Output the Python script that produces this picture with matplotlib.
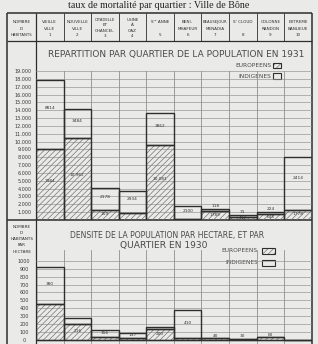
import numpy as np
import matplotlib.pyplot as plt
from matplotlib.patches import Rectangle

W, H = 318, 344
PAPER = "#eaeae8"
INK = "#2e2e2e"
GRID = "#909090"
HATCH = "#777777"
LETTER = "#4a4a4a"

# quartiers de la ville (en-tete du tableau)
quartiers = ["VIEILLE\nVILLE\n1", "NOUVELLE\nVILLE\n2", "CITADELLE\nET\nCHANCEL\n3",
             "USINE\nÀ\nGAZ\n4", "Sᵗᵉ ANNE\n\n5", "BENI-\nMHAFEUR\n6",
             "BEAUSEJOUR\nMENADIA\n7", "Sᵗ CLOUD\n\n8", "COLONNE\nRANDON\n9",
             "EXTREME\nBANLIEUE\n10"]

# repartition 1931 (hauteurs)
europeens_1931 = [9000, 10400, 1300, 950, 9600, 100, 1200, 400, 750, 1300]
indigenes_1931 = [8900, 3750, 2750, 2800, 4000, 1650, 150, 180, 250, 6700]
chiffres_ind_1931 = ["8814", "3484", "2178", "2934", "3862", "2100", "118", "31", "224", "2414"]
chiffres_eur_1931 = ["7984", "10.962", "159", "", "10.081", "", "1789", "412", "645", "1778"]
ticks_1931 = list(range(1000, 20000, 1000))

# densite par hectare 1930
europeens_dens = [452, 197, 28, 15, 130, 20, 18, 10, 28, 0]
indigenes_dens = [470, 80, 93, 72, 33, 355, 0, 0, 0, 0]
chiffres_dens = ["380", "216", "156", "137", "200", "410", "40", "30", "60", ""]
ticks_dens = list(range(0, 1100, 100))

plt.rcParams["hatch.linewidth"] = 0.5
plt.rcParams["font.family"] = "DejaVu Sans"

fig = plt.figure(figsize=(W / 100, H / 100), dpi=100, facecolor=PAPER)

# calque en pixels pour le cadre et le lettrage
bg = fig.add_axes([0, 0, 1, 1])
bg.set_xlim(0, W)
bg.set_ylim(H, 0)
bg.axis("off")

XL, XR, YT = 7.3, 311.7, 13
X0 = 36
colw = (XR - X0) / 10


def px_axes(left, top, right, bottom):
    a = fig.add_axes([left / W, 1 - bottom / H, (right - left) / W, (bottom - top) / H])
    a.patch.set_alpha(0)
    for s in a.spines.values():
        s.set_visible(False)
    return a


def hline(y, xa=XL, xb=XR, lw=0.9, c=INK):
    bg.plot([xa, xb], [y, y], color=c, lw=lw, solid_capstyle="butt")


def vline(x, ya, yb, lw=0.9, c=INK):
    bg.plot([x, x], [ya, yb], color=c, lw=lw, solid_capstyle="butt")


# cadre
hline(YT, lw=1.1)
vline(XL, YT, H, lw=1.1)
vline(XR, YT, H, lw=1.1)
hline(41, lw=0.9)
vline(X0, YT, H, lw=0.9)
hline(220, lw=1.1)
for i in range(1, 10):
    vline(X0 + i * colw, YT, 41, lw=0.6)

# legende de la figure, en haut
bg.text(159, 7.6, "taux de mortalité par quartier : Ville de Bône", family="Liberation Serif",
        fontsize=7.2, ha="center", va="baseline", color="#222")


def header(cx, txt):
    lines = txt.split("\n")
    n = len(lines)
    ys = np.linspace(22 if n == 3 else 20, 35 if n == 3 else 36, n)
    for y, t in zip(ys, lines):
        if t:
            bg.text(cx, y, t, fontsize=3.0 if len(t) < 9 else 2.7, ha="center", va="center",
                    color=INK)


header((XL + X0) / 2, "NOMBRE\nD'\nHABITANTS")
for i, q in enumerate(quartiers):
    header(X0 + (i + 0.5) * colw, q)

# titres et legendes
bg.text(176.5, 54.5, "REPARTITION PAR QUARTIER DE LA POPULATION EN 1931", fontsize=6.5,
        ha="center", va="center", color=LETTER)
bg.text(167, 235.5, "DENSITE DE LA POPULATION PAR HECTARE, ET PAR", fontsize=5.5,
        ha="center", va="center", color=LETTER)
bg.text(164, 245.5, "QUARTIER EN 1930", fontsize=6.6, ha="center", va="center", color=LETTER)
for y, t in zip([227.5, 233, 239, 245.5, 252], ["NOMBRE", "D'", "HABITANTS", "PAR", "HECTARE"]):
    bg.text((XL + X0) / 2, y, t, fontsize=3.0, ha="center", va="center", color=INK)


def legende(xt, xb, wb, yeu, yin, hb):
    bg.text(xt, yeu, "EUROPEENS", fontsize=4.2, ha="right", va="center", color=LETTER)
    bg.text(xt, yin, "INDIGENES", fontsize=4.2, ha="right", va="center", color=LETTER)
    bg.add_patch(Rectangle((xb, yeu - hb / 2), wb, hb, facecolor="none", edgecolor=HATCH,
                           hatch="//////", lw=0))
    bg.add_patch(Rectangle((xb, yeu - hb / 2), wb, hb, facecolor="none", edgecolor=INK, lw=0.8))
    bg.add_patch(Rectangle((xb, yin - hb / 2), wb, hb, facecolor="none", edgecolor=INK, lw=0.8))


legende(271, 273, 8, 65.5, 76, 5.5)
legende(258, 262, 13, 250.5, 263, 6)

x = np.arange(10) + 0.5


def chart(ax, eur, ind, ticks, labels):
    for t in ticks:
        ax.axhline(t, color=GRID, lw=0.45, zorder=0)
    for i in range(1, 10):
        ax.axvline(i, color=GRID, lw=0.6, zorder=0)
    ax.bar(x, eur, width=1, facecolor="none", edgecolor=HATCH, hatch="//////", lw=0, zorder=1)
    ax.bar(x, eur, width=1, facecolor="none", edgecolor=INK, lw=1.0, zorder=2)
    ax.bar(x, ind, bottom=eur, width=1, facecolor="none", edgecolor=INK, lw=1.0, zorder=2)
    ax.set_xlim(0, 10)
    ax.set_xticks([])
    ax.set_yticks(ticks)
    ax.set_yticklabels(labels)
    ax.tick_params(axis="y", length=0, labelsize=3.5, labelcolor="#3a3a3a")


# --- repartition 1931
ax1 = px_axes(X0, 71, XR, 220)
chart(ax1, europeens_1931, indigenes_1931, ticks_1931, [f"{t // 1000}.000" for t in ticks_1931])
ax1.set_ylim(0, 19000)
ax1.tick_params(axis="y", pad=3)
for i in range(10):
    e, n = europeens_1931[i], indigenes_1931[i]
    yi = e + n + 450 if n < 500 else e + n * 0.6
    ax1.text(x[i], yi, chiffres_ind_1931[i], fontsize=3.1, ha="center", va="center", color="#333")
    if chiffres_eur_1931[i]:
        ax1.text(x[i], e * 0.55, chiffres_eur_1931[i], fontsize=3.1, ha="center", va="center",
                 color="#333")

# --- densite 1930
ax2 = px_axes(X0, 250, XR, 344)
chart(ax2, europeens_dens, indigenes_dens, ticks_dens[1:], [str(t) for t in ticks_dens[1:]])
ax2.axhline(0, color=INK, lw=0.9, zorder=2)
ax2.set_yticks(ticks_dens)
ax2.set_yticklabels([str(t) for t in ticks_dens])
ax2.set_ylim(-57, 1140)
ax2.tick_params(axis="y", pad=8.5)
for t in ax2.get_yticklabels():
    t.set_ha("center")
for i in range(10):
    e, n = europeens_dens[i], indigenes_dens[i]
    if not chiffres_dens[i]:
        continue
    if e + n < 50:
        y = e + n + 30
    elif n > e:
        y = e + n * 0.55
    else:
        y = e * 0.55
    ax2.text(x[i], y, chiffres_dens[i], fontsize=3.1, ha="center", va="center", color="#333")

fig.savefig("out.png", dpi=100, facecolor=PAPER)
